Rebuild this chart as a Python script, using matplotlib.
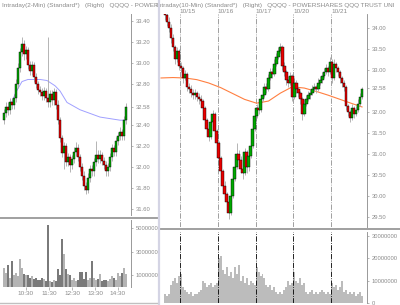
""" QQQQ intraday 2-min and 10-min candlestick panels. """
import numpy as np
import matplotlib
matplotlib.use("Agg")
import matplotlib.pyplot as plt
import matplotlib.transforms as mtransforms
from matplotlib.lines import Line2D

plt.rcParams['font.family'] = ['Liberation Sans', 'DejaVu Sans']

# ---- left panel: 2-min bars ----
l_open = [32.45, 32.52, 32.58, 32.55, 32.62, 32.60, 32.66, 32.80, 32.95, 33.10,
          33.18, 33.08, 33.12, 32.98, 32.92, 32.98, 32.86, 32.80, 32.74, 32.72,
          32.68, 32.73, 32.66, 32.62, 32.70, 32.64, 32.72, 32.60, 32.45, 32.28,
          32.14, 32.20, 32.05, 32.10, 32.02, 32.08, 32.15, 32.18, 32.10, 32.00,
          31.92, 31.82, 31.78, 31.90, 31.98, 31.96, 32.05, 32.12, 32.08, 32.12,
          32.06, 32.02, 31.96, 32.00, 32.10, 32.18, 32.15, 32.25, 32.30, 32.34,
          32.30, 32.45]
l_close = [32.52, 32.58, 32.55, 32.62, 32.60, 32.66, 32.80, 32.95, 33.10, 33.18,
           33.08, 33.12, 32.98, 32.92, 32.98, 32.86, 32.80, 32.74, 32.72, 32.68,
           32.73, 32.66, 32.62, 32.70, 32.64, 32.72, 32.60, 32.45, 32.28, 32.14,
           32.20, 32.05, 32.10, 32.02, 32.08, 32.15, 32.18, 32.10, 32.00, 31.92,
           31.82, 31.78, 31.90, 31.98, 31.96, 32.05, 32.12, 32.08, 32.12, 32.06,
           32.02, 31.96, 32.00, 32.10, 32.18, 32.15, 32.25, 32.30, 32.34, 32.30,
           32.45, 32.58]
l_high = [32.56, 32.62, 32.62, 32.66, 32.66, 32.70, 32.84, 33.00, 33.14, 33.25,
          33.22, 33.16, 33.15, 33.02, 33.02, 33.01, 32.90, 32.83, 32.78, 32.76,
          32.77, 32.76, 33.25, 32.74, 32.74, 32.76, 32.75, 32.64, 32.48, 32.31,
          32.24, 32.23, 32.14, 32.13, 32.12, 32.19, 32.24, 32.22, 32.13, 32.04,
          31.96, 31.86, 31.94, 32.02, 32.02, 32.09, 32.25, 32.16, 32.16, 32.15,
          32.10, 32.06, 32.04, 32.14, 32.22, 32.21, 32.29, 32.34, 32.38, 32.37,
          32.49, 32.61]
l_low = [32.41, 32.48, 32.50, 32.51, 32.56, 32.56, 32.62, 32.76, 32.91, 33.06,
         33.03, 33.04, 32.94, 32.88, 32.88, 32.82, 32.76, 32.70, 32.68, 32.64,
         32.64, 32.62, 32.58, 32.58, 32.60, 32.60, 32.56, 32.41, 32.24, 32.10,
         31.98, 32.01, 32.01, 31.95, 31.98, 32.04, 32.11, 32.06, 31.96, 31.88,
         31.78, 31.74, 31.75, 31.86, 31.92, 31.92, 32.01, 32.04, 32.04, 32.02,
         31.98, 31.92, 31.92, 31.96, 32.06, 32.11, 32.11, 32.21, 32.26, 32.26,
         32.26, 32.41]
l_volume = [1.6, 1.2, 1.9, 0.8, 2.2, 1.0, 1.2, 0.9, 2.4, 1.6,
            1.1, 1.0, 1.0, 0.8, 0.9, 0.7, 0.8, 0.6, 0.6, 0.8,
            0.7, 0.5, 5.3, 0.5, 0.4, 0.6, 0.5, 1.5, 1.0, 4.1,
            2.8, 1.5, 1.1, 1.0, 0.6, 0.8, 0.5, 0.6, 1.3, 1.3,
            0.7, 1.3, 0.6, 0.8, 2.2, 0.8, 0.6, 0.7, 1.1, 0.5,
            0.6, 0.6, 0.5, 0.7, 0.9, 0.8, 0.6, 1.2, 0.9, 1.2,
            1.6, 1.1]
l_ma_idx = [3, 6, 9, 12, 18, 21.5, 25.5, 28, 31.5, 38, 48, 58, 61]
l_ma = [32.58, 32.72, 32.82, 32.84, 32.84, 32.83, 32.78, 32.73, 32.62, 32.55,
        32.48, 32.45, 32.45]
l_time_labels = ["10:30", "11:30", "12:30", "13:30", "14:30"]
l_time_idx = [11, 22.5, 34, 45.5, 57]
l_price_ticks = [31.60, 31.80, 32.00, 32.20, 32.40, 32.58, 32.80, 33.00, 33.20, 33.40]
l_vol_ticks = [1, 3, 5]
l_vol_labels = ["1000000", "3000000", "5000000"]

# ---- right panel: 10-min bars ----
r_close = [34.30, 34.15, 34.00, 33.75, 33.55, 33.25, 33.45, 33.10, 33.05, 32.80,
           32.90, 32.60, 32.55, 32.45, 32.40, 32.45, 32.35, 32.30, 32.25, 32.10,
           31.80, 31.60, 31.40, 31.75, 31.95, 31.55, 31.25, 30.90, 30.60, 30.25,
           30.05, 29.85, 29.60, 30.00, 30.40, 30.70, 31.00, 30.85, 30.65, 30.55,
           31.05, 30.70, 30.95, 31.20, 31.60, 31.90, 32.10, 32.05, 32.30, 32.40,
           32.60, 32.55, 32.80, 32.95, 32.90, 33.15, 33.30, 33.45, 33.55, 33.10,
           32.95, 32.75, 32.70, 32.85, 32.35, 32.70, 32.55, 32.45, 32.30, 31.95,
           32.20, 32.30, 32.40, 32.45, 32.55, 32.60, 32.55, 32.70, 32.75, 32.85,
           32.95, 33.05, 32.95, 33.20, 32.80, 33.15, 33.05, 32.95, 32.80, 32.70,
           32.60, 32.15, 32.00, 31.85, 32.10, 31.95, 32.05, 32.20, 32.35, 32.55]
r_open = [34.40, 34.30, 34.15, 34.00, 33.75, 33.55, 33.25, 33.45, 33.10, 33.05,
          32.80, 32.90, 32.60, 32.55, 32.45, 32.40, 32.45, 32.35, 32.30, 32.25,
          32.10, 31.80, 31.60, 31.40, 31.75, 31.95, 31.55, 31.25, 30.90, 30.60,
          30.25, 30.05, 29.85, 29.60, 30.00, 30.40, 30.70, 31.00, 30.85, 30.65,
          30.55, 31.05, 30.70, 30.95, 31.20, 31.60, 31.90, 32.10, 32.05, 32.30,
          32.40, 32.60, 32.55, 32.80, 32.95, 32.90, 33.15, 33.30, 33.45, 33.55,
          33.10, 32.95, 32.75, 32.70, 32.85, 32.35, 32.70, 32.55, 32.45, 32.30,
          31.95, 32.20, 32.30, 32.40, 32.45, 32.55, 32.60, 32.55, 32.70, 32.75,
          32.85, 32.95, 33.05, 32.95, 33.20, 32.80, 33.15, 33.05, 32.95, 32.80,
          32.70, 32.60, 32.15, 32.00, 31.85, 32.10, 31.95, 32.05, 32.20, 32.35]
r_high = [34.45, 34.38, 34.25, 34.10, 33.85, 33.60, 33.55, 33.50, 33.20, 33.10,
          33.00, 32.95, 32.70, 32.65, 32.55, 32.55, 32.50, 32.45, 32.40, 32.30,
          32.15, 31.85, 31.65, 31.85, 32.05, 32.00, 31.60, 31.30, 30.95, 30.65,
          30.35, 30.10, 29.90, 30.05, 30.45, 30.80, 31.25, 31.10, 30.95, 30.70,
          31.15, 31.10, 31.05, 31.30, 31.70, 32.00, 32.20, 32.20, 32.40, 32.50,
          32.70, 32.70, 32.90, 33.05, 33.05, 33.25, 33.40, 33.55, 33.65, 33.60,
          33.20, 33.00, 32.85, 32.95, 32.90, 32.80, 32.75, 32.60, 32.50, 32.35,
          32.30, 32.40, 32.50, 32.55, 32.65, 32.70, 32.65, 32.80, 32.85, 32.95,
          33.05, 33.15, 33.10, 33.30, 33.25, 33.25, 33.20, 33.10, 33.00, 32.85,
          32.75, 32.65, 32.20, 32.05, 32.20, 32.15, 32.15, 32.30, 32.45, 32.60]
r_low = [34.20, 34.05, 33.90, 33.65, 33.45, 33.15, 33.20, 33.00, 32.95, 32.70,
         32.75, 32.50, 32.45, 32.35, 32.30, 32.30, 32.25, 32.20, 32.15, 32.00,
         31.70, 31.50, 31.30, 31.35, 31.70, 31.45, 31.15, 30.80, 30.50, 30.15,
         29.95, 29.75, 29.45, 29.55, 29.95, 30.35, 30.65, 30.75, 30.55, 30.40,
         30.50, 30.55, 30.60, 30.90, 31.15, 31.55, 31.85, 31.95, 32.00, 32.25,
         32.35, 32.45, 32.50, 32.75, 32.80, 32.85, 33.10, 33.25, 33.40, 33.00,
         32.85, 32.65, 32.60, 32.65, 32.25, 32.30, 32.45, 32.35, 32.20, 31.80,
         31.90, 32.15, 32.25, 32.30, 32.40, 32.50, 32.45, 32.50, 32.65, 32.70,
         32.80, 32.90, 32.85, 32.90, 32.70, 32.75, 32.95, 32.85, 32.70, 32.60,
         32.50, 32.05, 31.90, 31.75, 31.80, 31.85, 31.90, 32.00, 32.15, 32.30]
r_volume = [4, 3, 4, 8, 10, 11, 9, 12, 13,
            7, 6, 5, 4, 5, 3, 4, 4, 5, 6,
            10, 9, 7, 8, 9, 7, 8, 9,
            20, 21,
            15, 13, 16, 12, 14, 11, 16, 13,
            17,
            10, 12, 9, 11, 8, 10, 9, 8,
            16,
            14, 12, 13, 11,
            8, 7, 8, 6, 7,
            5, 4, 5, 4, 6,
            7, 10, 8, 9,
            14,
            10, 9, 11, 8, 9,
            5, 4, 5, 6, 4, 5, 4, 5, 6, 5, 4, 5, 4,
            9,
            7, 8, 6, 7,
            10,
            5, 6, 4, 5, 4, 5, 3, 4, 5, 3]
r_ma_idx = [-2, 4, 10, 16, 22, 28, 34, 40, 46, 52, 58, 64, 70, 76, 82, 88, 94, 99]
r_ma = [32.81, 32.82, 32.81, 32.77, 32.69, 32.58, 32.44, 32.30, 32.21, 32.26,
        32.45, 32.60, 32.57, 32.49, 32.40, 32.30, 32.20, 32.12]
r_day_idx = [8, 27, 46, 65, 84]
r_day_labels = ["10/15", "10/16", "10/17", "10/20", "10/21"]
r_price_ticks = [29.50, 30.00, 30.50, 31.00, 31.50, 32.00, 32.58, 33.00, 33.50, 34.00]
r_vol_ticks = [0, 10, 20, 30]
r_vol_labels = ["0", "10000000", "20000000", "30000000"]

W, H = 400, 305
FS = 4.6
TICK_FS = 4.2
GRAY = "#8a8a8a"


def box(x0, y0, x1, y1):
    """Pixel box (top-left origin) to figure coords."""
    return [x0 / W, 1 - y1 / H, (x1 - x0) / W, (y1 - y0) / H]


def style_axis(ax):
    for side in ["top", "left", "bottom"]:
        ax.spines[side].set_visible(False)
    ax.spines["right"].set_linestyle((0, (1, 1)))
    ax.spines["right"].set_color("#999999")
    ax.spines["right"].set_linewidth(0.7)
    ax.yaxis.tick_right()
    ax.tick_params(axis="y", length=1.5, width=0.5, color="#999999",
                   labelsize=TICK_FS, labelcolor=GRAY, pad=2)
    ax.tick_params(axis="x", length=0, labelbottom=False)


def draw_candles(ax, o, h, l, c, width, min_h):
    o, h, l, c = (np.asarray(v) for v in (o, h, l, c))
    x = np.arange(len(c))
    ax.vlines(x, l, h, color="#a8a8a8", lw=0.6, zorder=2)
    up = c >= o
    ax.bar(x, np.maximum(np.abs(c - o), min_h), width, bottom=np.minimum(o, c),
           color=np.where(up, "#00a800", "#e80000"), edgecolor="black",
           linewidth=0.3, zorder=3)
    return up


def main() -> None:
    fig = plt.figure(figsize=(W / 100, H / 100), dpi=100)

    # left price
    ax_lp = fig.add_axes(box(0, 14, 131, 215))
    up = draw_candles(ax_lp, l_open, l_high, l_low, l_close, 1.4, 0.012)
    ax_lp.plot(l_ma_idx, l_ma, color="#a0a0ff", lw=0.7, zorder=1)
    ax_lp.set_xlim(-2, 63.5)
    ax_lp.set_ylim(31.542, 33.467)
    ax_lp.set_yticks(l_price_ticks)
    ax_lp.set_yticklabels([f"{t:.2f}" for t in l_price_ticks])
    style_axis(ax_lp)

    # left volume
    ax_lv = fig.add_axes(box(0, 220, 131, 287))
    ax_lv.bar(np.arange(len(l_volume)), l_volume, 1.0,
              color=np.where(up, "#b4b4b4", "#7a7a7a"), linewidth=0)
    ax_lv.set_xlim(-2, 63.5)
    ax_lv.set_ylim(0, 5.7)
    ax_lv.set_yticks(l_vol_ticks)
    ax_lv.set_yticklabels(l_vol_labels)
    style_axis(ax_lv)
    ax_lv.set_xticks(l_time_idx)
    ax_lv.set_xticklabels(l_time_labels)
    ax_lv.tick_params(axis="x", length=2, width=0.5, color="#999999",
                      labelbottom=True, labelsize=FS, labelcolor=GRAY, pad=1)

    # right price
    ax_rp = fig.add_axes(box(159, 14, 367, 227))
    draw_candles(ax_rp, r_open, r_high, r_low, r_close, 1.3, 0.02)
    ax_rp.plot(r_ma_idx, r_ma, color="#ff7f40", lw=0.8, zorder=1)
    ax_rp.set_xlim(-3, 101.5)
    ax_rp.set_ylim(29.262, 34.333)
    ax_rp.set_yticks(r_price_ticks)
    ax_rp.set_yticklabels([f"{t:.2f}" for t in r_price_ticks])
    style_axis(ax_rp)
    trans = mtransforms.blended_transform_factory(ax_rp.transData, ax_rp.transAxes)
    for d, lab in zip(r_day_idx, r_day_labels):
        ax_rp.axvline(d - 0.5, color="#909090", lw=0.6, ls="-.", zorder=0)
        ax_rp.text(d - 0.5, 1.014, lab, transform=trans, ha="left", va="center",
                   fontsize=FS, color=GRAY)

    # right volume
    ax_rv = fig.add_axes(box(159, 232, 367, 303))
    ax_rv.bar(np.arange(len(r_volume)), r_volume, 1.0, color="#bcbcbc",
              linewidth=0)
    for d in r_day_idx:
        ax_rv.axvline(d - 0.5, color="black", lw=0.6, ls="-.", zorder=3)
    ax_rv.set_xlim(-3, 101.5)
    ax_rv.set_ylim(0, 31.8)
    ax_rv.set_yticks(r_vol_ticks)
    ax_rv.set_yticklabels(r_vol_labels)
    style_axis(ax_rv)

    # titles and separators
    fig.text(2 / W, 1 - 5 / H,
             "Intraday(2-Min) (Standard*)   (Right)   QQQQ - POWER",
             fontsize=FS, color=GRAY, va="center", ha="left")
    fig.text(156 / W, 1 - 5 / H,
             "Intraday(10-Min) (Standard*)   (Right)   QQQQ - POWERSHARES QQQ TRUST UNI",
             fontsize=FS, color=GRAY, va="center", ha="left")
    fig.add_artist(Line2D([0, 159 / W], [1 - 218 / H] * 2, color="#a0a0a0",
                          lw=1.4, zorder=5))
    fig.add_artist(Line2D([159 / W, 1], [1 - 229 / H] * 2, color="#a0a0a0",
                          lw=1.4, zorder=5))
    fig.add_artist(Line2D([159 / W] * 2, [0, 1], color="#d4d4e4", lw=1.6,
                          zorder=5))
    fig.add_artist(Line2D([0, 157 / W], [1 - 303 / H] * 2, color="#c0c0c0",
                          lw=1.0, zorder=5))

    fig.savefig("out.png", dpi=100)
    plt.close(fig)


if __name__ == "__main__":
    main()
